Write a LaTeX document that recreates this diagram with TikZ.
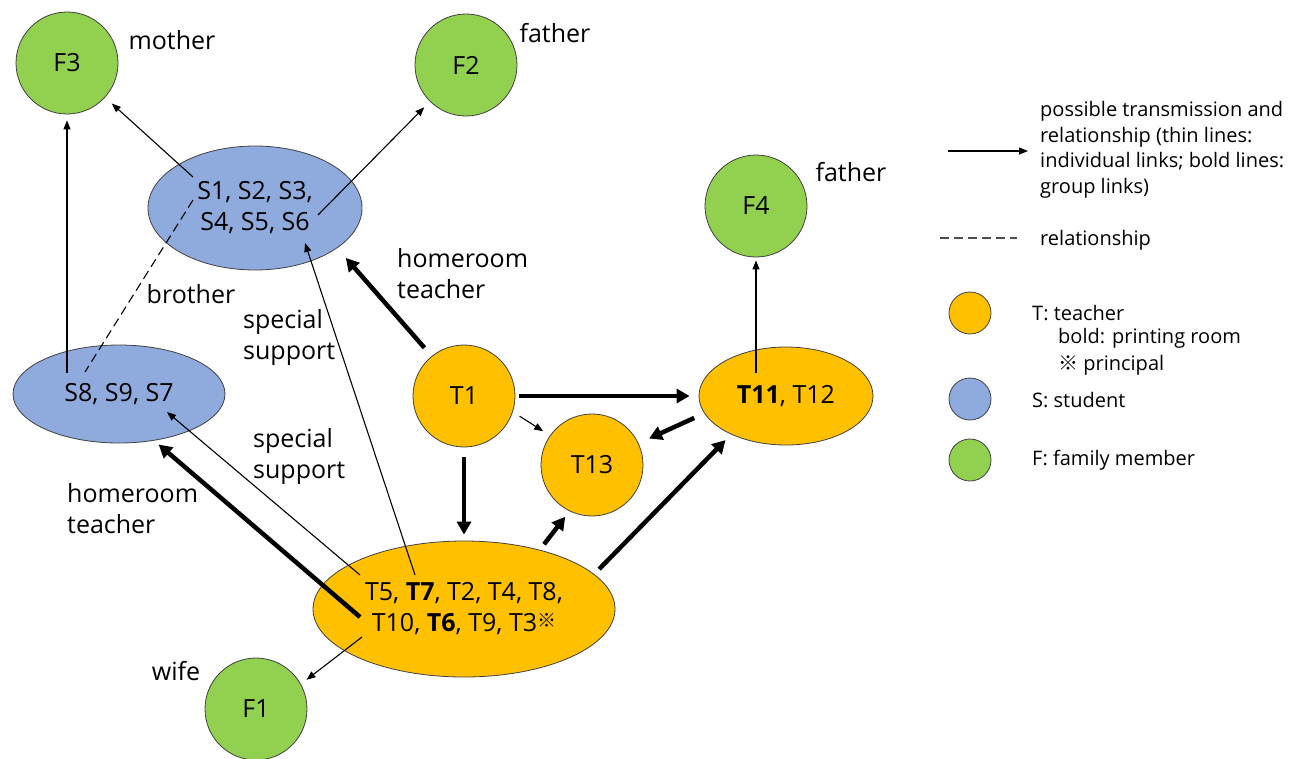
\documentclass[tikz,border=0pt]{standalone}
\usepackage{fontspec}
\setmainfont{Open Sans}
\newfontfamily\cjk{Noto Sans CJK JP}
\usetikzlibrary{arrows.meta,shapes.geometric,calc}
\definecolor{torange}{HTML}{FFC000}
\definecolor{sblue}{HTML}{8FAADC}
\definecolor{fgreen}{HTML}{92D050}
\definecolor{edgegray}{HTML}{404040}
\begin{document}
\begin{tikzpicture}[x=1pt,y=-1pt,
  every node/.style={font=\fontsize{25}{31}\selectfont},
  circ/.style={circle,draw=edgegray,line width=0.8pt,minimum size=102pt,inner sep=0pt},
  ell/.style={ellipse,draw=edgegray,line width=0.8pt,inner sep=0pt,align=center},
  lab/.style={align=left,inner sep=0pt,anchor=west},
  leg/.style={font=\fontsize{20}{25.5}\selectfont,inner sep=0pt,align=left,anchor=west},
  legdot/.style={circle,draw=edgegray,line width=0.8pt,minimum size=42pt,inner sep=0pt},
  linkthin/.style={line width=1.1pt,-{Triangle[length=9pt,width=7pt]}},
  linkthick/.style={line width=4.5pt,-{Triangle[length=13pt,width=14pt]}},
  reldash/.style={line width=1.1pt,dash pattern=on 9pt off 5pt}
]
\useasboundingbox (0,0) rectangle (1290,758);

% family members
\node[circ,fill=fgreen] (F3) at (67,63) {F3};
\node[circ,fill=fgreen] (F2) at (466,65) {F2};
\node[circ,fill=fgreen] (F4) at (756,206) {F4};
\node[circ,fill=fgreen] (F1) at (256,709) {F1};

% students
\node[ell,fill=sblue,minimum width=214pt,minimum height=124pt] (S) at (255,208) {S1, S2, S3,\\S4, S5, S6};
\node[ell,fill=sblue,minimum width=212pt,minimum height=98pt] (S8) at (119,394) {S8, S9, S7};

% teachers
\node[circ,fill=torange] (T1) at (464,396) {T1};
\node[circ,fill=torange] (T13) at (592,465) {T13};
\node[ell,fill=torange,minimum width=174pt,minimum height=98pt] (T11) at (786,396) {\textbf{T11}, T12};
\node[ell,fill=torange,minimum width=302pt,minimum height=136pt] (big) at (464,609)
  {T5, \textbf{T7}, T2, T4, T8,\\T10, \textbf{T6}, T9, T3\raisebox{4pt}{\cjk\fontsize{19}{19}\selectfont ※}};

% labels
\node[inner sep=0pt] (lmother) at (172,40) {mother};
\node[inner sep=0pt] (lfatherA) at (555,33) {father};
\node[inner sep=0pt] (lfatherB) at (851,172) {father};
\node[inner sep=0pt] (lwife) at (176,671) {wife};
\node[inner sep=0pt] (lbrother) at (191,294) {brother};
\node[lab] (lhrA) at (397,274) {homeroom\\teacher};
\node[lab] (lssA) at (243,337) {special\\support};
\node[lab] (lssB) at (253,456) {special\\support};
\node[lab] (lhrB) at (67,509) {homeroom\\teacher};

% interior coordinates
\coordinate (sa) at (193,177);
\coordinate (sb) at (318,215);
\coordinate (sc) at (193,200);
\coordinate (st) at (305,243);
\coordinate (s8a) at (67,373);
\coordinate (s8b) at (85,372);
\coordinate (s8c) at (167,412);
\coordinate (t11a) at (756,373);
\coordinate (b5) at (360,575);
\coordinate (b7) at (415,575);
\coordinate (b6) at (360,617);
\coordinate (b10) at (362,637);

% thin links
\draw[linkthin,shorten >=9pt] (sa) -- (F3);
\draw[linkthin,shorten >=8pt] (sb) -- (F2);
\draw[linkthin,shorten >=6pt] (s8a) -- (F3);
\draw[reldash] (sc) -- (s8b);
\draw[linkthin,shorten >=3pt] (t11a) -- (F4);
\draw[linkthin] (b7) -- (st);
\draw[linkthin] (b5) -- (s8c);
\draw[linkthin,shorten >=7pt] (b10) -- (F1.29);
\draw[linkthin,shorten <=8pt,shorten >=8pt] (T1.-18) -- (T13.145);

% thick links
\draw[linkthick,shorten <=11pt,shorten >=13pt] (T1.129) -- (S.-26);
\draw[linkthick,shorten >=6pt] (b6) -- (S8.-53);
\draw[linkthick,shorten <=4pt,shorten >=9pt] (T1.0) -- (T11.180);
\draw[linkthick,shorten <=11pt,shorten >=11.5pt] (T11.192) -- (T13.25);
\draw[linkthick,shorten <=10pt,shorten >=6pt] (T1.south) -- (big.north);
\draw[linkthick,shorten <=7pt,shorten >=7pt] (big.38) -- (T13.244);
\draw[linkthick,shorten <=7pt,shorten >=8pt] (big.15) -- (T11.215);

% legend
\coordinate (la1) at (948,151);
\coordinate (la2) at (1028,151);
\draw[linkthin] (la1) -- (la2);
\node[leg] (legA) at (1040,150) {possible transmission and\\relationship (thin lines:\\individual links; bold lines:\\group links)};
\coordinate (ld1) at (940,238);
\coordinate (ld2) at (1017,238);
\draw[reldash,draw=black!70] (ld1) -- (ld2);
\node[leg] (legB) at (1040,240) {relationship};
\node[legdot,fill=torange] (dT) at (970,313) {};
\node[legdot,fill=sblue] (dS) at (970,399) {};
\node[legdot,fill=fgreen] (dF) at (970,460) {};
\node[leg] (legT) at (1032,313) {T: teacher};
\node[leg] (legT2) at (1058,338) {bold: printing room};
\node[leg] (legT3) at (1058,365) {{\cjk ※} principal};
\node[leg] (legS) at (1032,400) {S: student};
\node[leg] (legF) at (1032,460) {F: family member};
\end{tikzpicture}
\end{document}
